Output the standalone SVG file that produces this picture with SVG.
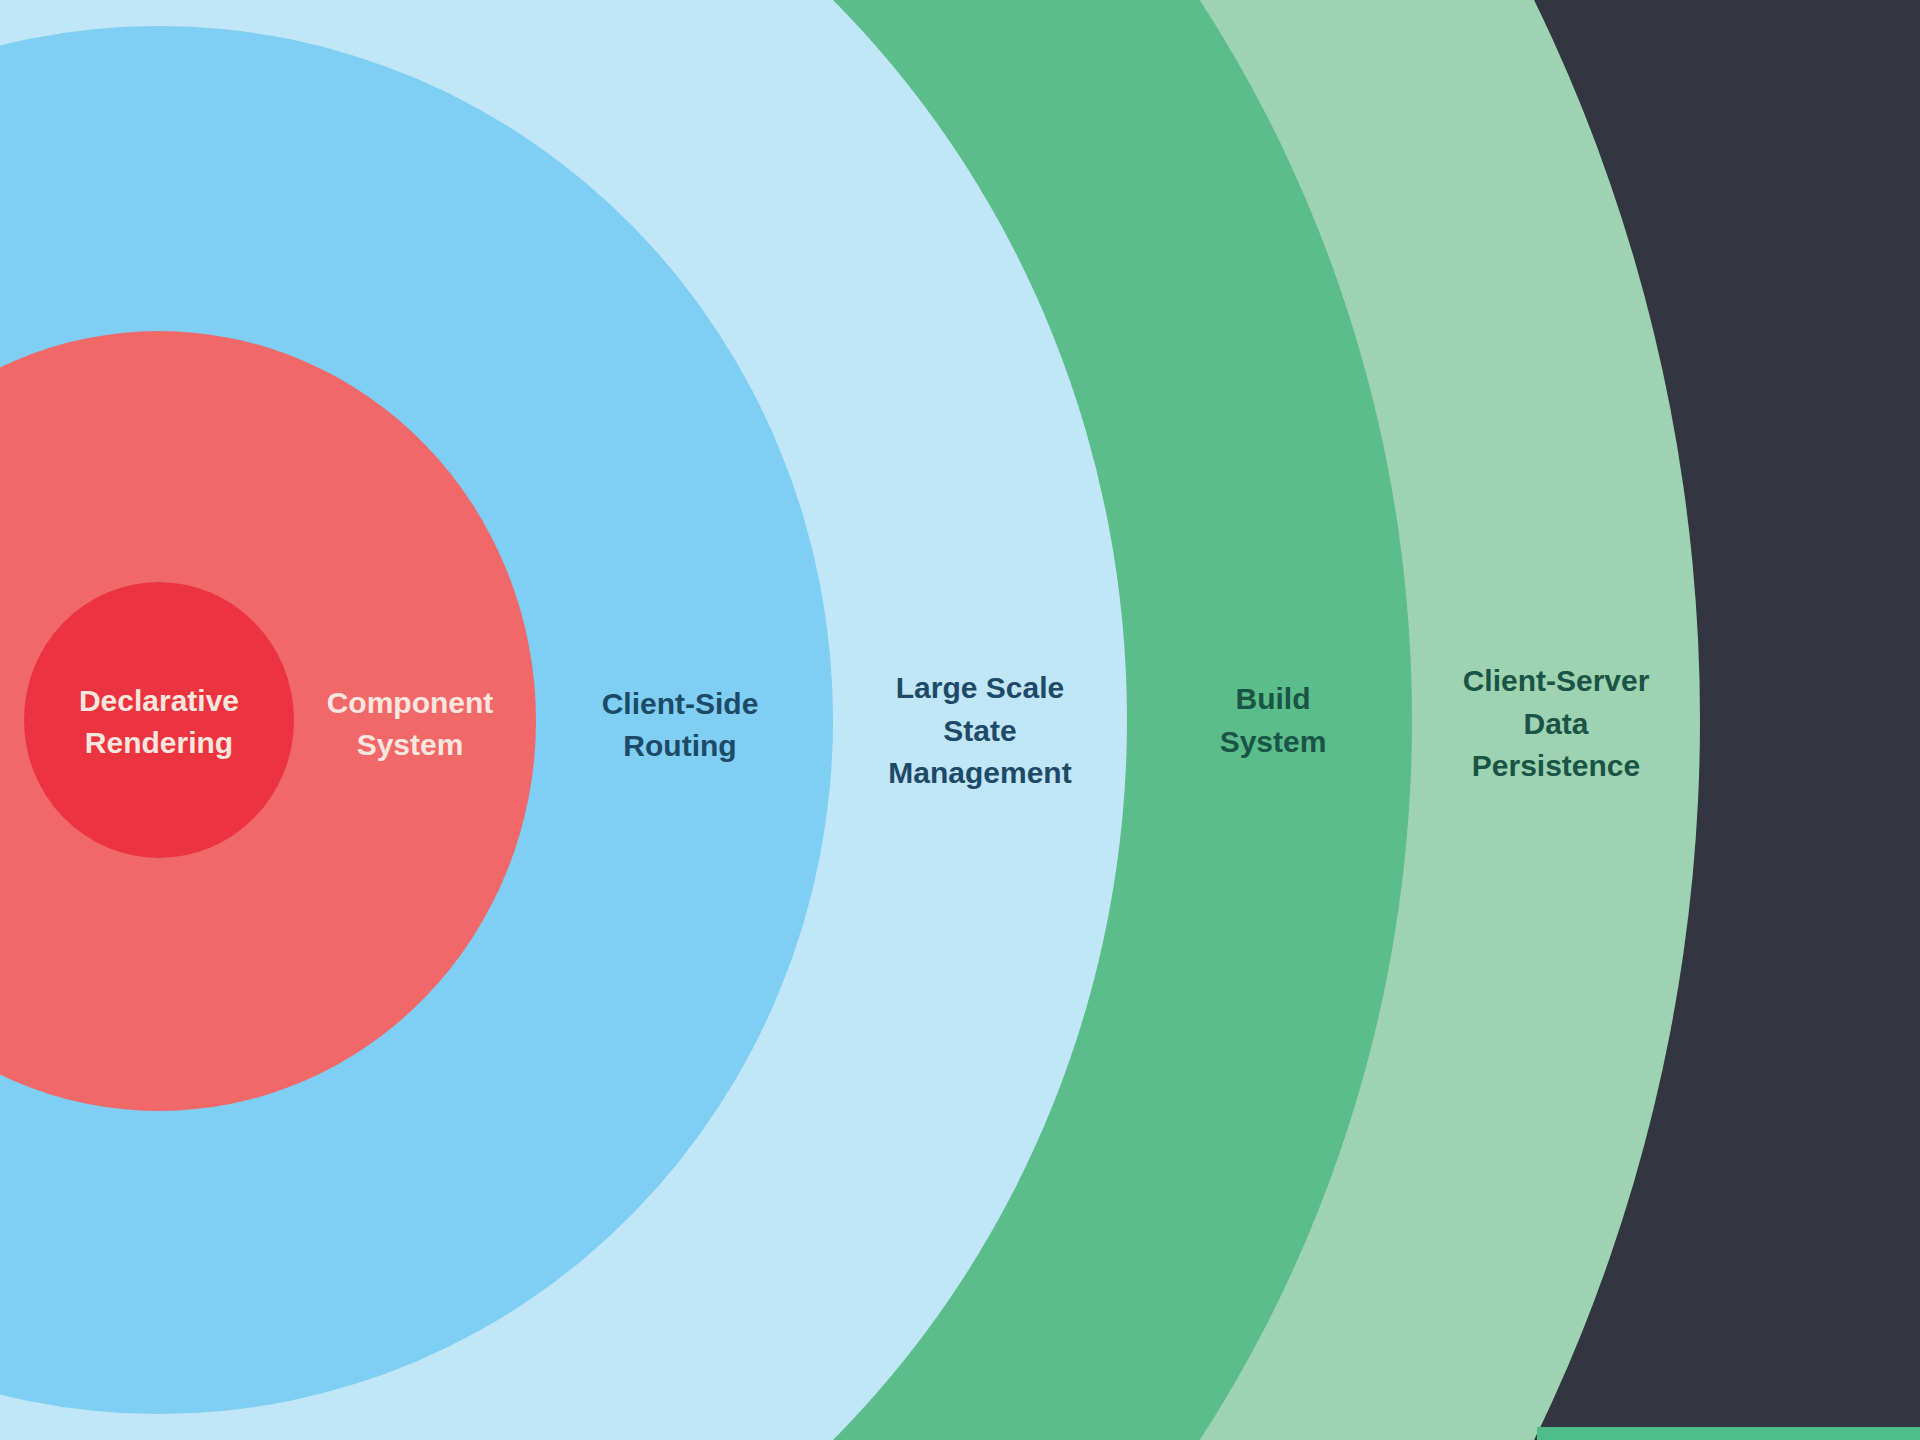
<svg xmlns="http://www.w3.org/2000/svg" width="1920" height="1440" viewBox="0 0 1920 1440">
  <style>
    .lbl { font-family: "Liberation Sans", Arial, sans-serif; font-weight: 700; font-size: 30px; text-anchor: middle; }
    .light { fill: #fbe6df; }
    .navy { fill: #1d4a66; }
    .teal { fill: #1a5446; }
  </style>
  <rect id="background" x="0" y="0" width="1920" height="1440" fill="#333640"/>
  <g id="ring-persistence">
    <ellipse cx="159" cy="720" rx="1541" ry="1595" fill="#9dd3b1"/>
    <text class="lbl teal" x="1556" y="691">Client-Server</text>
    <text class="lbl teal" x="1556" y="734">Data</text>
    <text class="lbl teal" x="1556" y="776">Persistence</text>
  </g>
  <g id="ring-build">
    <ellipse cx="159" cy="720" rx="1253" ry="1293" fill="#5bbd8a"/>
    <text class="lbl teal" x="1273" y="709">Build</text>
    <text class="lbl teal" x="1273" y="752">System</text>
  </g>
  <g id="ring-state">
    <ellipse cx="159" cy="720" rx="968" ry="1003" fill="#c0e6f8"/>
    <text class="lbl navy" x="980" y="698">Large Scale</text>
    <text class="lbl navy" x="980" y="741">State</text>
    <text class="lbl navy" x="980" y="783">Management</text>
  </g>
  <g id="ring-routing">
    <ellipse cx="159" cy="720" rx="674" ry="694" fill="#7fcef3"/>
    <text class="lbl navy" x="680" y="714">Client-Side</text>
    <text class="lbl navy" x="680" y="756">Routing</text>
  </g>
  <g id="ring-component">
    <ellipse cx="159" cy="721" rx="377" ry="390" fill="#f06868"/>
    <text class="lbl light" x="410" y="713">Component</text>
    <text class="lbl light" x="410" y="755">System</text>
  </g>
  <g id="core-rendering">
    <ellipse cx="159" cy="720" rx="135" ry="138" fill="#ec3440"/>
    <text class="lbl light" x="159" y="711">Declarative</text>
    <text class="lbl light" x="159" y="753">Rendering</text>
  </g>
  <g id="connectors"/>
  <rect id="bottom-bar" x="1537" y="1427" width="383" height="13" fill="#4dbd8a"/>
</svg>
